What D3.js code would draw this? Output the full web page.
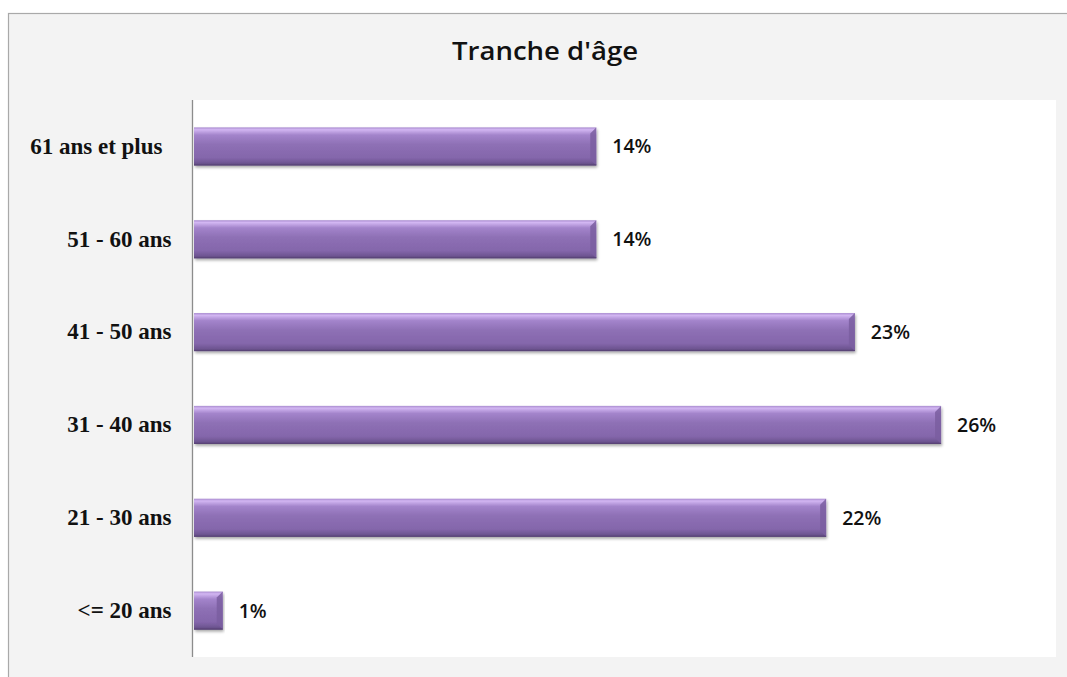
<!DOCTYPE html>
<html><head><meta charset="utf-8">
<script src="https://cdn.jsdelivr.net/npm/d3@7"></script>
<style>html,body{margin:0;padding:0;background:#fff;}svg{display:block;}</style>
</head><body>
<script>
const categories = ["61 ans et plus", "51 - 60 ans", "41 - 50 ans", "31 - 40 ans", "21 - 30 ans", "<= 20 ans"];
const values = [14, 14, 23, 26, 22, 1];
const labels = ["14%", "14%", "23%", "26%", "22%", "1%"];
const title = "Tranche d'âge";

const W = 1067, H = 677;
const svg = d3.select("body").append("svg").attr("width", W).attr("height", H);
const defs = svg.append("defs");
const g1 = defs.append("linearGradient").attr("id","barg").attr("x1",0).attr("y1",0).attr("x2",0).attr("y2",1);
[[0,"#a98bcf"],[0.06,"#d2b6f2"],[0.2,"#a384cb"],[0.45,"#8e70b5"],[0.8,"#8466ab"],[0.93,"#6f5693"],[1,"#5a4578"]]
  .forEach(([o,c])=>g1.append("stop").attr("offset",o).attr("stop-color",c));
const f = defs.append("filter").attr("id","sh").attr("x","-5%").attr("y","-20%").attr("width","110%").attr("height","160%");
f.append("feGaussianBlur").attr("in","SourceAlpha").attr("stdDeviation",1.5);
f.append("feOffset").attr("dx",1).attr("dy",2).attr("result","b");
f.append("feComponentTransfer").append("feFuncA").attr("type","linear").attr("slope",0.35);
const m = f.append("feMerge"); m.append("feMergeNode"); m.append("feMergeNode").attr("in","SourceGraphic");

// chart frame
svg.append("rect").attr("x",8.5).attr("y",13.5).attr("width",W+10).attr("height",H+10)
  .attr("fill","#f3f3f3").attr("stroke","#a9a9a9").attr("stroke-width",1.2);

const x = d3.scaleLinear().domain([0,30]).range([194,1056]);
const y = d3.scaleBand().domain(categories).range([100,657]).paddingInner(0.59).paddingOuter(0.295);

// plot area
svg.append("rect").attr("x",193).attr("y",100).attr("width",1056-193).attr("height",557).attr("fill","#ffffff");

svg.append("text").attr("x",545).attr("y",60).attr("text-anchor","middle")
  .attr("font-family","Open Sans, sans-serif").attr("font-weight",600).attr("font-size",26)
  .attr("textLength",186).attr("lengthAdjust","spacingAndGlyphs")
  .attr("fill","#111").text(title);

const bars = svg.append("g").selectAll("g").data(categories).join("g");
bars.append("rect").attr("x",x(0)).attr("y",d=>y(d)).attr("height",y.bandwidth())
  .attr("width",(d,i)=>x(values[i])-x(0)).attr("fill","url(#barg)").attr("filter","url(#sh)");
// right bevel
bars.append("path").attr("d",(d,i)=>{
  const xe=x(values[i]), y0=y(d), h=y.bandwidth(), b=Math.min(6,(xe-x(0))/3);
  return `M${xe},${y0} L${xe},${y0+h} L${xe-b},${y0+h-b} L${xe-b},${y0+b} Z`;
}).attr("fill","#7a5ea0").attr("opacity",0.85);
bars.append("path").attr("d",(d,i)=>{
  const xe=x(values[i]), y0=y(d), h=y.bandwidth();
  return `M${x(0)},${y0+h-0.5} L${xe},${y0+h-0.5}`;
}).attr("stroke","#5a4578").attr("stroke-width",1);

// value labels
bars.append("text").attr("x",(d,i)=>x(values[i])+16).attr("y",d=>y(d)+y.bandwidth()/2)
  .attr("dy","0.36em").attr("font-family","Open Sans, sans-serif").attr("font-weight",600)
  .attr("font-size",19.5).attr("fill","#111").text((d,i)=>labels[i]);

// axis
const ax = svg.append("g").attr("transform","translate(192.5,0)")
  .call(d3.axisLeft(y).tickSize(0).tickPadding(21));
ax.select(".domain").attr("stroke","#8c8c8c").attr("stroke-width",1.3).attr("d","M0,100V657");
ax.selectAll("text").attr("font-family","Liberation Serif, Times New Roman, serif")
  .attr("font-weight","bold").attr("font-size",23).attr("fill","#111")
  .attr("dx",d=>d==="61 ans et plus"?-9:0);
</script>
</body></html>
